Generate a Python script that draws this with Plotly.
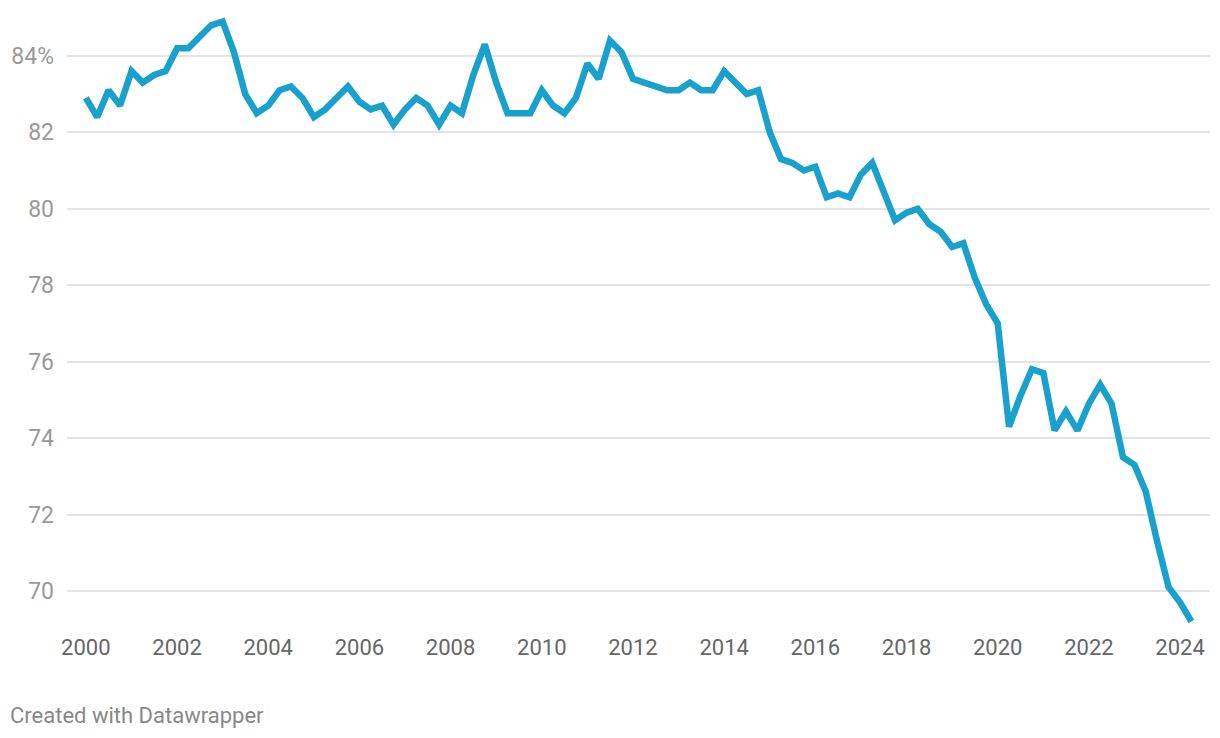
import pandas as pd
import plotly.graph_objects as go

years = list(range(2000, 2025))
quarter_months = ["01", "04", "07", "10"]

share = [
    82.9, 82.4, 83.1, 82.7,
    83.6, 83.3, 83.5, 83.6,
    84.2, 84.2, 84.5, 84.8,
    84.9, 84.1, 83.0, 82.5,
    82.7, 83.1, 83.2, 82.9,
    82.4, 82.6, 82.9, 83.2,
    82.8, 82.6, 82.7, 82.2,
    82.6, 82.9, 82.7, 82.2,
    82.7, 82.5, 83.5, 84.3,
    83.3, 82.5, 82.5, 82.5,
    83.1, 82.7, 82.5, 82.9,
    83.8, 83.4, 84.4, 84.1,
    83.4, 83.3, 83.2, 83.1,
    83.1, 83.3, 83.1, 83.1,
    83.6, 83.3, 83.0, 83.1,
    82.0, 81.3, 81.2, 81.0,
    81.1, 80.3, 80.4, 80.3,
    80.9, 81.2, 80.4, 79.7,
    79.9, 80.0, 79.6, 79.4,
    79.0, 79.1, 78.2, 77.5,
    77.0, 74.3, 75.1, 75.8,
    75.7, 74.2, 74.7, 74.2,
    74.9, 75.4, 74.9, 73.5,
    73.3, 72.6, 71.3, 70.1,
    69.7, 69.2,
]

dates = [f"{y}-{m}-01" for y in years for m in quarter_months][:len(share)]
df = pd.DataFrame({"date": pd.to_datetime(dates), "share": share})

y_ticks = [70, 72, 74, 76, 78, 80, 82, 84]
y_labels = ["70", "72", "74", "76", "78", "80", "82", "84%"]

fig = go.Figure()
fig.add_trace(go.Scatter(
    x=df["date"], y=df["share"], mode="lines",
    line=dict(color="#18a1cd", width=6.5),
    hoverinfo="skip",
))

# page body adds an 8px margin, so the figure is 8px smaller and shifted
fig.update_layout(
    width=1212, height=730,
    margin=dict(l=59, r=10, t=7, b=110),
    plot_bgcolor="white", paper_bgcolor="white",
    font=dict(family="Roboto", size=22),
    showlegend=False,
    annotations=[dict(
        text="Created with Datawrapper", xref="paper", yref="paper",
        x=-59 / 1143, y=-87 / 613, xanchor="left", yanchor="middle",
        showarrow=False, font=dict(size=22, color="#888888"),
    )],
)
fig.update_xaxes(
    range=["1999-08-03", "2024-08-28"],
    tick0="2000-01-01", dtick="M24", tickformat="%Y",
    showgrid=False, zeroline=False, showline=False,
    ticks="", tickfont=dict(color="#666666", size=22),
    ticklabelstandoff=4, automargin=False,
)
fig.update_yaxes(
    range=[69.03, 85.07],
    tickvals=y_ticks, ticktext=y_labels,
    showgrid=True, gridcolor="#e3e3e3", gridwidth=1.5,
    zeroline=False, showline=False, ticks="",
    tickfont=dict(color="#999999", size=23),
    ticklabelstandoff=12, automargin=False,
)

fig.write_html("out.html")
